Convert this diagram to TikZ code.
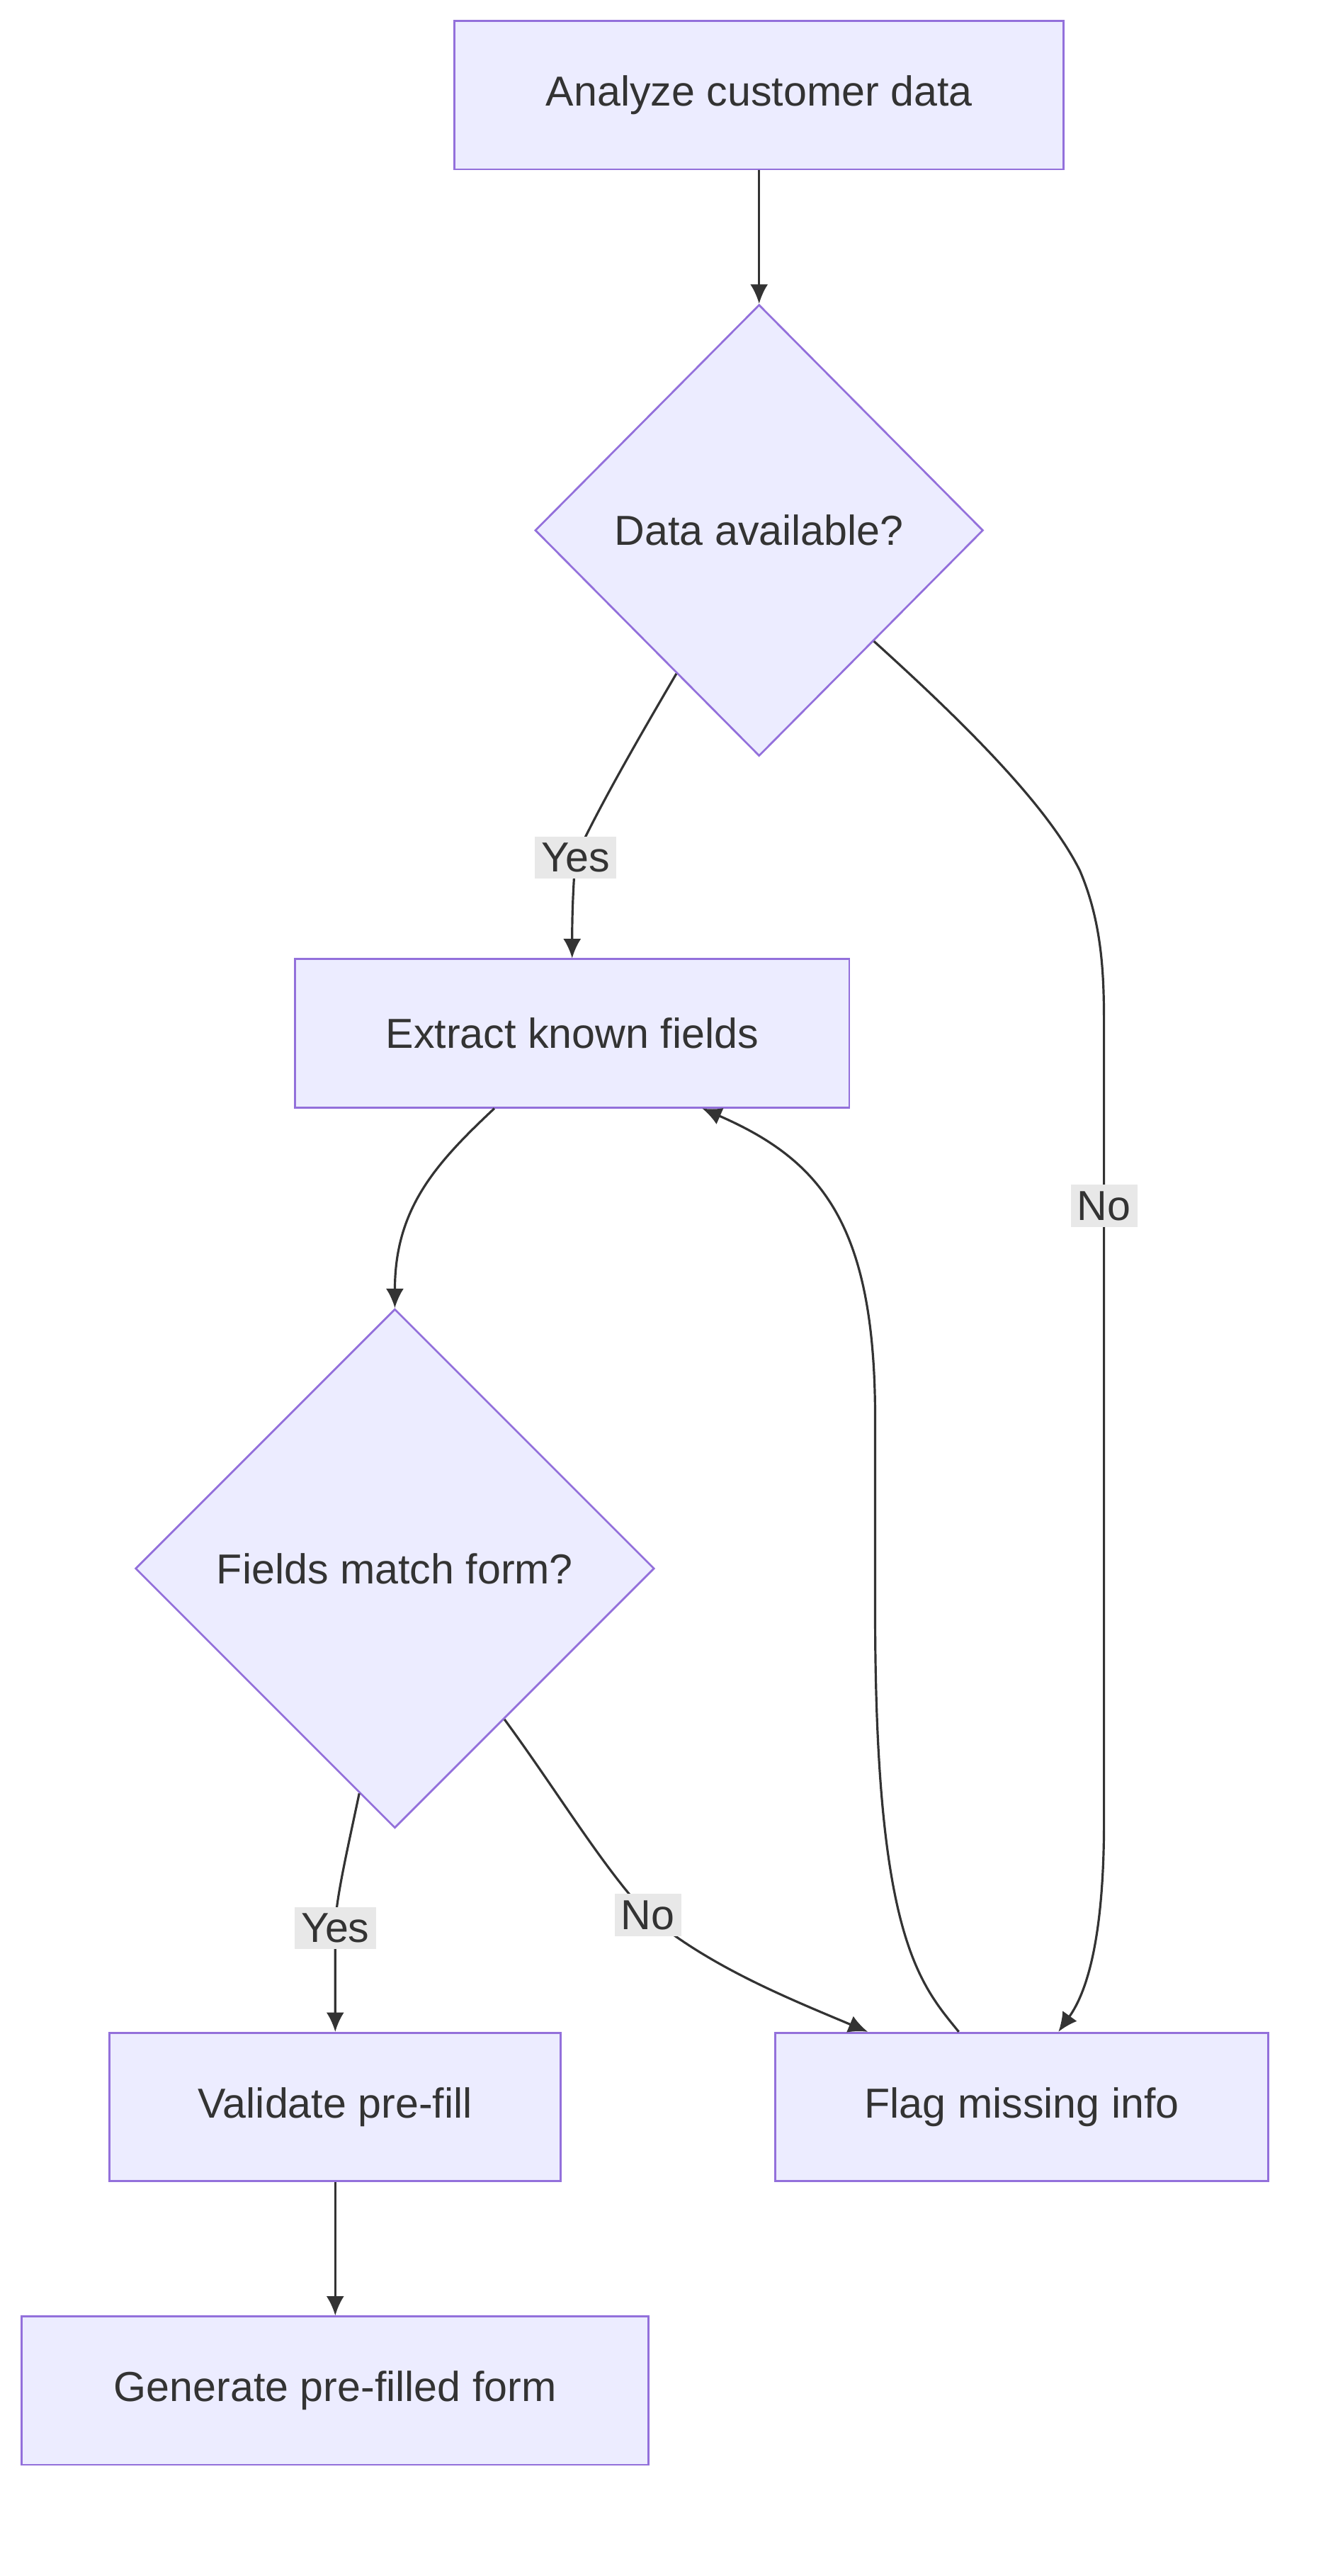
\documentclass[tikz,border=0pt]{standalone}
\usepackage{fontspec}
\setmainfont{Liberation Sans}
\usetikzlibrary{shapes.geometric,arrows.meta}
\definecolor{boxfill}{HTML}{ECECFF}
\definecolor{boxline}{HTML}{9370DB}
\definecolor{ink}{HTML}{333333}
\definecolor{lblfill}{HTML}{E8E8E8}
\begin{document}
\begin{tikzpicture}[x=0.5pt, y=-0.5pt]
		\tikzset{
			every node/.style={
				font=\fontsize{13}{15}\selectfont,
				text=ink
			},
			task/.style={
				rectangle,
				draw=boxline,
				fill=boxfill,
				line width=0.6pt,
				minimum height=46pt
			},
			check/.style={
				diamond,
				draw=boxline,
				fill=boxfill,
				line width=0.6pt,
				inner sep=0pt
			},
			lbl/.style={
				fill=lblfill,
				inner sep=2pt
			},
			line/.style={
				-{Latex[length=6pt,width=5.5pt]},
				draw=ink,
				line width=0.7pt
			}
		}
		\useasboundingbox (0,0) rectangle (830,1598);

		\node[task, minimum width=189pt] (analyze) at (471,59)
			{Analyze customer data};
		\node[check, minimum width=139pt, minimum height=140pt] (avail) at (471,329)
			{Data available?};
		\node[task, minimum width=172pt] (extract) at (355,641)
			{Extract known fields};
		\node[check, minimum width=161pt, minimum height=161pt] (match) at (245,973)
			{Fields match form?};
		\node[task, minimum width=140pt] (validate) at (208,1307)
			{Validate pre-fill};
		\node[task, minimum width=153pt] (flag) at (634,1307)
			{Flag missing info};
		\node[task, minimum width=194.5pt] (generate) at (208,1483)
			{Generate pre-filled form};

		\draw[line] (analyze) -- (avail);

		\draw[line] (avail.-120) .. controls (395,460) and (372,500) .. (357,532)
			node[lbl] (yes1) {Yes} .. controls (355,560) and (355,575) .. (extract.north);
		\draw[line] (avail.-44) .. controls (600,450) and (650,500) .. (670,540)
			.. controls (685,575) and (685,610) .. (685,640) -- (685,748)
			node[lbl] (no1) {No} -- (685,1130)
			.. controls (685,1200) and (675,1235) .. (flag.64);

		\draw[line] (extract.-136) .. controls (270,722) and (245,750) .. (match.north);

		\draw[line] (match.-99) .. controls (215,1150) and (208,1180) .. (208,1196)
			node[lbl] (yes2) {Yes} -- (validate.north);
		\draw[line] (match.-54) .. controls (345,1110) and (375,1160) .. (402,1188)
			node[lbl] (no2) {No} .. controls (440,1220) and (490,1240) .. (flag.154);

		\draw[line] (flag.130) .. controls (570,1230) and (543,1200) .. (543,1000)
			-- (543,880) .. controls (543,760) and (510,720) .. (extract.-30);

		\draw[line] (validate) -- (generate);

	\end{tikzpicture}
\end{document}
